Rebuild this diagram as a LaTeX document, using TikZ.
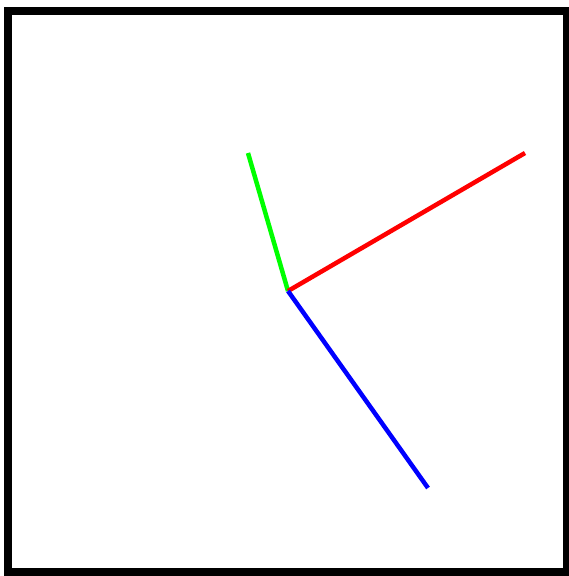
\documentclass[tikz,border=0pt]{standalone}
\begin{document}
\begin{tikzpicture}[x=1pt,y=-1pt,
  frame/.style={draw=black,line width=8pt},
  ray/.style={line width=4.5pt}]
\useasboundingbox (0,0) rectangle (568,576);
\draw[frame] (8,11) rectangle (567,572);
\coordinate (c) at (288,291);
\coordinate (g) at (248,153);
\coordinate (r) at (525,153);
\coordinate (b) at (428,488);
\draw[ray,draw={rgb,255:red,0;green,255;blue,0}] (c) -- (g);
\draw[ray,draw={rgb,255:red,255;green,0;blue,0}] (c) -- (r);
\draw[ray,draw={rgb,255:red,0;green,0;blue,255}] (c) -- (b);
\end{tikzpicture}
\end{document}
